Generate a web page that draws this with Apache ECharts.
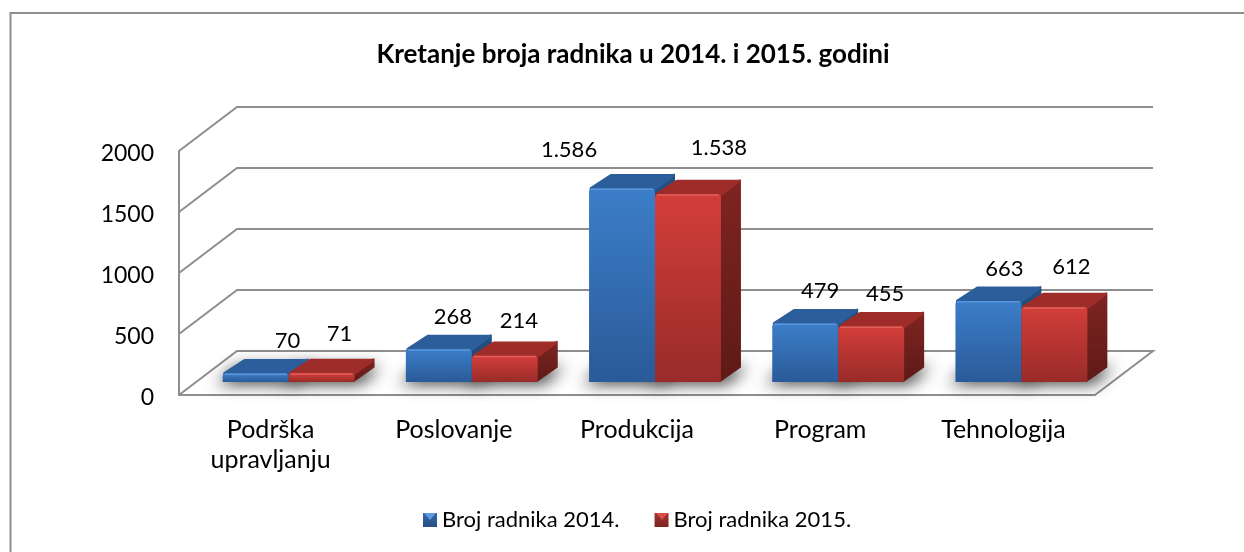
<!DOCTYPE html>
<html><head><meta charset="utf-8">
<style>html,body{margin:0;padding:0;background:#fff}#c{width:1244px;height:552px}</style>
<script src="https://cdn.jsdelivr.net/npm/echarts@6/dist/echarts.min.js"></script>
</head><body><div id="c"></div>
<script>
const categories = ['Podrška\nupravljanju','Poslovanje','Produkcija','Program','Tehnologija'];
const workers2014 = [70,268,1586,479,663];
const workers2015 = [71,214,1538,455,612];
const valueTicks = [0,500,1000,1500,2000];
const title = 'Kretanje broja radnika u 2014. i 2015. godini';
const seriesNames = ['Broj radnika 2014.','Broj radnika 2015.'];

// manual label placement, as in the source chart (px relative to the bar's top centre)
const labelNudge2014 = [[32,-33],[14,-32],[-53,-39],[15,-33],[16,-32]];
const labelNudge2015 = [[18,-39],[14,-35],[31,-46],[14,-33],[17,-40]];

const FONT = 'Lato, Carlito, sans-serif';
const WALL = {x:58, y:-44};     // depth of the floor
const PLANE = {x:18, y:-13};    // plane the bars stand on
const BAR = {x:20, y:-15};      // bar depth
const BAR_FRAC = 0.36;
const GRAY = '#8e8e8e';
const OFFSCREEN = 3000;         // shape is drawn off-canvas so only its blurred shadow shows

const grad = (a,b)=>({type:'linear',x:0,y:0,x2:0,y2:1,colorStops:[{offset:0,color:a},{offset:1,color:b}]});
const THEME = [
  {front:grad('#3c7ec9','#2a5a98'),top:'#2b5e9b',side:grad('#235083','#1d406c'),hi:'#5a96da',legend:grad('#3567a6','#264f85'),tri:'#5b9be0'},
  {front:grad('#d33e3a','#982b29'),top:'#9e2c29',side:grad('#7f2421','#5e1a18'),hi:'#e2605c',legend:grad('#a23432','#7d2422'),tri:'#dc4c48'}
];

function wallItem(params, api){
  const v = valueTicks[params.dataIndex];
  const band = api.size([1,0])[0];
  const n = categories.length;
  const p = api.coord([0,v]);
  const xL = p[0]-band/2, xR = api.coord([n-1,v])[0]+band/2, y = p[1];
  const line = {stroke:GRAY, lineWidth:2, fill:null};
  const pts = v===0
    ? [[xL,y],[xL+WALL.x,y+WALL.y],[xR+WALL.x,y+WALL.y],[xR,y]]
    : [[xL,y],[xL+WALL.x,y+WALL.y],[xR+WALL.x,y+WALL.y]];
  return {type:'polyline', shape:{points:pts}, style:line};
}

function footprint(idx, s, api){
  const vals = s===0?workers2014:workers2015;
  const band = api.size([1,0])[0], w = band*BAR_FRAC;
  const c = api.coord([idx,0]);
  const x0 = c[0]+PLANE.x+(s===0?-w:0), y0 = c[1]+PLANE.y;
  const top = api.coord([idx,vals[idx]])[1]+PLANE.y;
  return {x0,y0,w,top,cx:x0+w/2};
}

function shadowItem(params, api){
  const f = footprint(params.dataIndex, params.seriesIndex-1, api);
  const pad = 6, X = -OFFSCREEN;
  return {type:'polygon',
    shape:{points:[[X+f.x0-pad,f.y0+2],[X+f.x0+f.w+pad,f.y0+2],[X+f.x0+f.w+BAR.x+pad,f.y0+BAR.y],[X+f.x0+BAR.x-pad,f.y0+BAR.y]]},
    style:{fill:'#000',shadowBlur:16,shadowOffsetX:OFFSCREEN,shadowColor:'rgba(45,45,45,0.95)'}};
}

function barItem(s){
  return function(params, api){
    const idx = params.dataIndex, t = THEME[s];
    const f = footprint(idx, s, api);
    const nudge = (s===0?labelNudge2014:labelNudge2015)[idx];
    const val = (s===0?workers2014:workers2015)[idx];
    const text = val>=1000 ? String(val).replace(/(\d)(\d{3})$/,'$1.$2') : String(val);
    const x0=f.x0,x1=f.x0+f.w,y0=f.y0,yt=f.top,dx=BAR.x,dy=BAR.y;
    const soft = c=>({fill:c,stroke:c,lineWidth:3,lineJoin:'round'});
    return {type:'group',children:[
      {type:'polygon',shape:{points:[[x1-1,yt+1],[x1+dx-1,yt+dy+1],[x1+dx-1,y0+dy],[x1-1,y0-1]]},
        style:{fill:t.side,stroke:t.side,lineWidth:2,lineJoin:'round'}},
      {type:'polygon',shape:{points:[[x0+2,yt],[x1,yt],[x1+dx-2,yt+dy+2],[x0+dx+2,yt+dy+2]]},style:soft(t.top)},
      {type:'rect',shape:{x:x0,y:yt,width:f.w,height:y0-yt,r:[3,3,0,0]},style:{fill:t.front}},
      {type:'line',shape:{x1:x0+2,y1:yt+0.7,x2:x1-2,y2:yt+0.7},style:{stroke:t.hi,lineWidth:1.5}},
      {type:'text',style:{text:text,x:f.cx+nudge[0],y:f.top+nudge[1],align:'center',verticalAlign:'middle',
        font:'22px '+FONT,fill:'#000'}}
    ]};
  };
}

const chart = echarts.init(document.getElementById('c'),null,{renderer:'canvas'});
chart.setOption({
  animation:false,
  backgroundColor:'#fff',
  graphic:[
    {type:'polyline',silent:true,z:0,shape:{points:[[10.5,552],[10.5,13],[1244,13]]},
      style:{fill:null,stroke:GRAY,lineWidth:2}},
    {type:'polygon',silent:true,z:100,shape:{points:[[424,513],[436,513],[430,520]]},style:{fill:THEME[0].tri}},
    {type:'polygon',silent:true,z:100,shape:{points:[[656,513],[668,513],[662,520]]},style:{fill:THEME[1].tri}}
  ],
  title:{text:title,left:628,top:37,textAlign:'center',
    textStyle:{fontFamily:FONT,fontWeight:'bold',fontSize:26,color:'#000'}},
  legend:{data:seriesNames,top:504,left:418,itemWidth:14,itemHeight:14,itemGap:35,
    icon:'rect',textStyle:{fontFamily:FONT,fontSize:22,color:'#000'}},
  grid:{left:179,top:151,width:916,height:244},
  xAxis:{type:'category',data:categories,
    axisLine:{lineStyle:{color:GRAY,width:2}},axisTick:{show:false},
    axisLabel:{fontFamily:FONT,fontSize:25,lineHeight:30,color:'#000',margin:20,interval:0}},
  yAxis:{type:'value',min:0,max:2000,interval:500,
    axisLine:{show:true,lineStyle:{color:GRAY,width:2}},axisTick:{show:false},splitLine:{show:false},
    axisLabel:{fontFamily:FONT,fontSize:23,color:'#000',margin:25,verticalAlign:'top',lineHeight:6,formatter:v=>String(v)}},
  series:[
    {type:'custom',silent:true,renderItem:wallItem,data:valueTicks,z:1},
    {type:'custom',silent:true,renderItem:shadowItem,data:workers2014,z:2},
    {type:'custom',silent:true,renderItem:shadowItem,data:workers2015,z:2},
    {type:'custom',name:seriesNames[0],renderItem:barItem(0),data:workers2014,z:3,
      itemStyle:{color:THEME[0].legend},clip:false},
    {type:'custom',name:seriesNames[1],renderItem:barItem(1),data:workers2015,z:4,
      itemStyle:{color:THEME[1].legend},clip:false}
  ]
});
</script></body></html>
